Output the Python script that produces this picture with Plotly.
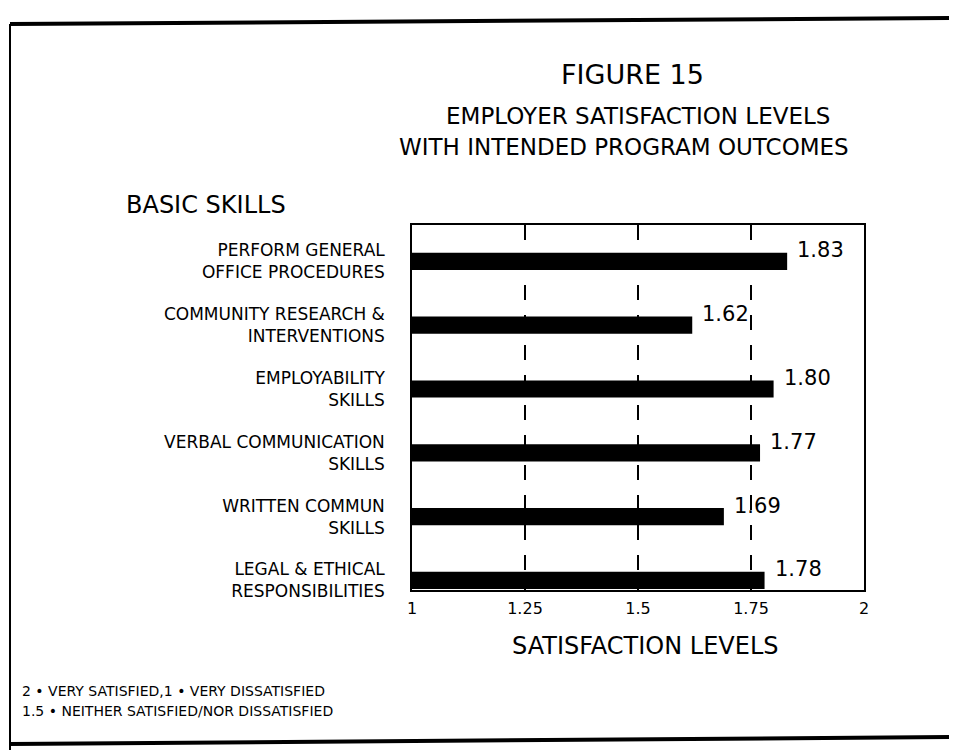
import plotly.graph_objects as go

categories = [
    "PERFORM GENERAL<br>OFFICE PROCEDURES",
    "COMMUNITY RESEARCH &<br>INTERVENTIONS",
    "EMPLOYABILITY<br>SKILLS",
    "VERBAL COMMUNICATION<br>SKILLS",
    "WRITTEN COMMUN<br>SKILLS",
    "LEGAL & ETHICAL<br>RESPONSIBILITIES",
]
values = [1.83, 1.62, 1.80, 1.77, 1.69, 1.78]
value_labels = ["1.83", "1.62", "1.80", "1.77", "1.69", "1.78"]
tick_vals = [1, 1.25, 1.5, 1.75, 2]
tick_text = ["1", "1.25", "1.5", "1.75", "2"]

OFF = 8  # page body margin
W, H = 957 - OFF, 750 - OFF
L, R, T, B = 412, 864, 225, 590  # plot box in window pixels

def px(p):
    return (p - L) / (R - L)

def py(p):
    return (B - p) / (B - T)

FONT = "DejaVu Sans"

fig = go.Figure()
fig.add_trace(go.Bar(
    y=categories, x=[v - 1 for v in values], base=1, orientation="h",
    marker=dict(color="black", line=dict(width=0)), width=0.27,
    hoverinfo="skip",
))

for c, v, t in zip(categories, values, value_labels):
    fig.add_annotation(x=v, y=c, xref="x", yref="y", text=t, showarrow=False,
                       xanchor="left", xshift=8, yshift=11,
                       font=dict(family=FONT, size=21, color="black"))

anns = [
    ("FIGURE 15", 632, 74, 27, "center"),
    ("EMPLOYER SATISFACTION LEVELS", 638, 116, 23, "center"),
    ("WITH INTENDED PROGRAM OUTCOMES", 624, 147, 23, "center"),
    ("BASIC SKILLS", 124, 205, 24, "left"),
    ("SATISFACTION LEVELS", 645, 646, 24, "center"),
    ("2 • VERY SATISFIED,1 • VERY DISSATISFIED", 20, 691, 14, "left"),
    ("1.5 • NEITHER SATISFIED/NOR DISSATISFIED", 20, 711, 14, "left"),
]
for text, x, y, s, anchor in anns:
    fig.add_annotation(x=px(x), y=py(y), xref="paper", yref="paper", text=text,
                       showarrow=False, xanchor=anchor, yanchor="middle",
                       font=dict(family=FONT, size=s, color="black"))

# page border lines (scan frame)
fig.add_shape(type="line", xref="paper", yref="paper", x0=px(10), x1=px(10), y0=py(24), y1=py(750),
              line=dict(color="black", width=2))
fig.add_shape(type="line", xref="paper", yref="paper", x0=px(10), x1=px(957), y0=py(24), y1=py(18),
              line=dict(color="black", width=4))
fig.add_shape(type="line", xref="paper", yref="paper", x0=px(10), x1=px(957), y0=py(744), y1=py(737),
              line=dict(color="black", width=4))

fig.update_layout(
    width=W, height=H,
    margin=dict(l=L - OFF, r=957 - R, t=T - OFF, b=750 - B),
    paper_bgcolor="white", plot_bgcolor="white",
    showlegend=False,
    font=dict(family=FONT, color="black"),
    xaxis=dict(range=[1, 2], tickvals=tick_vals, ticktext=tick_text,
               showgrid=True, gridcolor="black", gridwidth=1.5, griddash="longdash",
               showline=True, mirror=True, linecolor="black", linewidth=1.5,
               ticks="", ticklabelstandoff=3, tickfont=dict(family=FONT, size=16),
               zeroline=False),
    yaxis=dict(type="category", range=[5.15, -0.57], showgrid=False,
               showline=True, mirror=True, linecolor="black", linewidth=1.5,
               ticks="", ticklabelstandoff=22, tickfont=dict(family=FONT, size=17)),
)

fig.write_html("out.html")
